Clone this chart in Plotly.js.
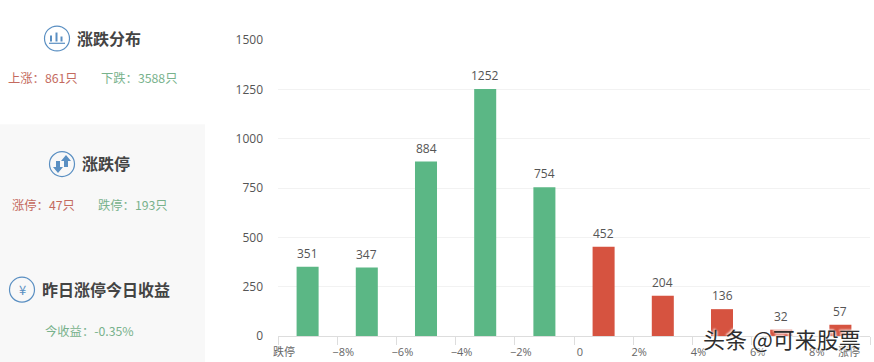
<!DOCTYPE html>
<html><head><meta charset="utf-8">
<script src="https://cdn.plot.ly/plotly-3.0.1.min.js"></script>
<style>html,body{margin:0;padding:0;background:#fff;overflow:hidden}#c{width:874px;height:362px}</style>
</head><body><div id="c"></div>
<script>
const bandPositions = [0.5,1.5,2.5,3.5,4.5,5.5,6.5,7.5,8.5,9.5];
const values = [351,347,884,1252,754,452,204,136,32,57];
const tickPositions = [0,1,2,3,4,5,6,7,8,9,10];
const tickLabels = ['跌停','−8%','−6%','−4%','−2%','0','2%','4%','6%','8%',''];
const lastTickLabel = '涨停';
const GREEN='#5bb785', RED='#d65340', TXT='#555';
const barColors = values.map((v,i)=> i<5?GREEN:RED);

const W=874,H=362,L=278,R=4,T=39.5,B=25.5;
const pw=W-L-R, ph=H-T-B;
const px=x=>(x-L)/pw, py=y=>1-(y-T)/ph;
const CJK='"Noto Sans CJK SC","Noto Sans",sans-serif';
const NUM='"Open Sans","Noto Sans CJK SC",sans-serif';

function label(text,x,y,size,color,weight){
  return {text:weight?'<b>'+text+'</b>':text,xref:'paper',yref:'paper',x:px(x-2),y:py(y-1),xanchor:'left',yanchor:'middle',
    showarrow:false,font:{family:CJK,size:size,color:color}};
}
const ICON='#5a8fc2', TITLE='#444', UP='#c46a5e', DN='#78b28c';
const annotations=[
  label('涨跌分布',77,38,16,TITLE,true),
  label('上涨：861只',8,79,12.3,UP),
  label('下跌：3588只',101,79,12.3,DN),
  label('涨跌停',82,164,16,TITLE,true),
  label('涨停：47只',12,206,12.3,UP),
  label('跌停：193只',98,206,12.3,DN),
  label('昨日涨停今日收益',42,290,16,TITLE,true),
  label('今收益：-0.35%',45,332,12.3,DN),
  {text:'¥',xref:'paper',yref:'paper',x:px(22),y:py(290),xanchor:'center',yanchor:'middle',showarrow:false,font:{family:CJK,size:13,color:ICON}},
  {text:lastTickLabel,xref:'paper',yref:'paper',x:px(849),y:py(352),xanchor:'center',yanchor:'middle',showarrow:false,font:{family:NUM,size:11,color:'#666'}}
];
values.forEach((v,i)=>annotations.push({
  text:String(v),x:bandPositions[i],y:v,xref:'x',yref:'y',xanchor:'center',yanchor:'bottom',yshift:3,showarrow:false,
  font:{family:NUM,size:12,color:TXT}
}));
annotations.push({text:'头条 @可来股票',xref:'paper',yref:'paper',x:px(701),y:py(339),xanchor:'left',yanchor:'middle',showarrow:false,
   font:{family:CJK,size:22,color:'#2e2e2e',shadow:'1px 1px 2px #fff, -1px -1px 2px #fff'}});
function rect(x0,y0,x1,y1,color){return {type:'rect',xref:'paper',yref:'paper',x0:px(x0),x1:px(x1),y0:py(y0),y1:py(y1),fillcolor:color,line:{width:0},layer:'below'};}
function circle(cx,cy,r){return {type:'circle',xref:'paper',yref:'paper',x0:px(cx-r),x1:px(cx+r),y0:py(cy-r),y1:py(cy+r),line:{color:ICON,width:1.2},fillcolor:'rgba(0,0,0,0)'};}
function poly(pts,color){return {type:'path',xref:'paper',yref:'paper',path:'M'+pts.map(p=>px(p[0])+','+py(p[1])).join('L')+'Z',fillcolor:color,line:{width:0}};}
const shapes=[
  rect(-5,124,205,367,'#f8f8f8'),
  circle(57,38,12.5), circle(62,164,12.5), circle(22,290,12.5),
  rect(50,35,52,41,ICON), rect(55.5,32,57.5,41,ICON), rect(60.5,36,62.5,41,ICON), rect(49,42.2,65,43.4,ICON),
  poly([[56,161],[60,161],[60,167],[63,167],[58,173],[53,167],[56,167]],ICON),
  poly([[64,167],[68,167],[68,161],[71,161],[66,155],[61,161],[64,161]],ICON)
];
shapes.forEach(s=>{if(s.type!=='rect')s.layer='above';});

Plotly.newPlot('c',[{
  type:'bar',x:bandPositions,y:values,width:0.372,marker:{color:barColors,line:{width:0}},hoverinfo:'skip'
}],{
  width:W,height:H,margin:{l:L,r:R,t:T,b:B,pad:0},paper_bgcolor:'#fff',plot_bgcolor:'rgba(0,0,0,0)',showlegend:false,
  font:{family:NUM,color:TXT,size:12},
  xaxis:{range:[0,10],tickmode:'array',tickvals:tickPositions,ticktext:tickLabels,ticks:'outside',ticklen:8,tickwidth:1,tickcolor:'#ddd',
    showgrid:false,zeroline:false,showline:true,linecolor:'#ddd',linewidth:1,ticklabelshift:6,ticklabelstandoff:-2,
    tickangle:0,tickfont:{family:NUM,size:11,color:'#666'},fixedrange:true},
  yaxis:{range:[0,1500],tickmode:'array',tickvals:[0,250,500,750,1000,1250,1500],ticktext:['0','250','500','750','1000','1250','1500'],
    ticks:'',showgrid:true,gridcolor:'#f2f2f2',gridwidth:1,zeroline:false,showline:false,ticklabelstandoff:14,
    tickfont:{family:NUM,size:12,color:'#555'},fixedrange:true},
  shapes:shapes,annotations:annotations
},{displayModeBar:false,staticPlot:true});
</script></body></html>
